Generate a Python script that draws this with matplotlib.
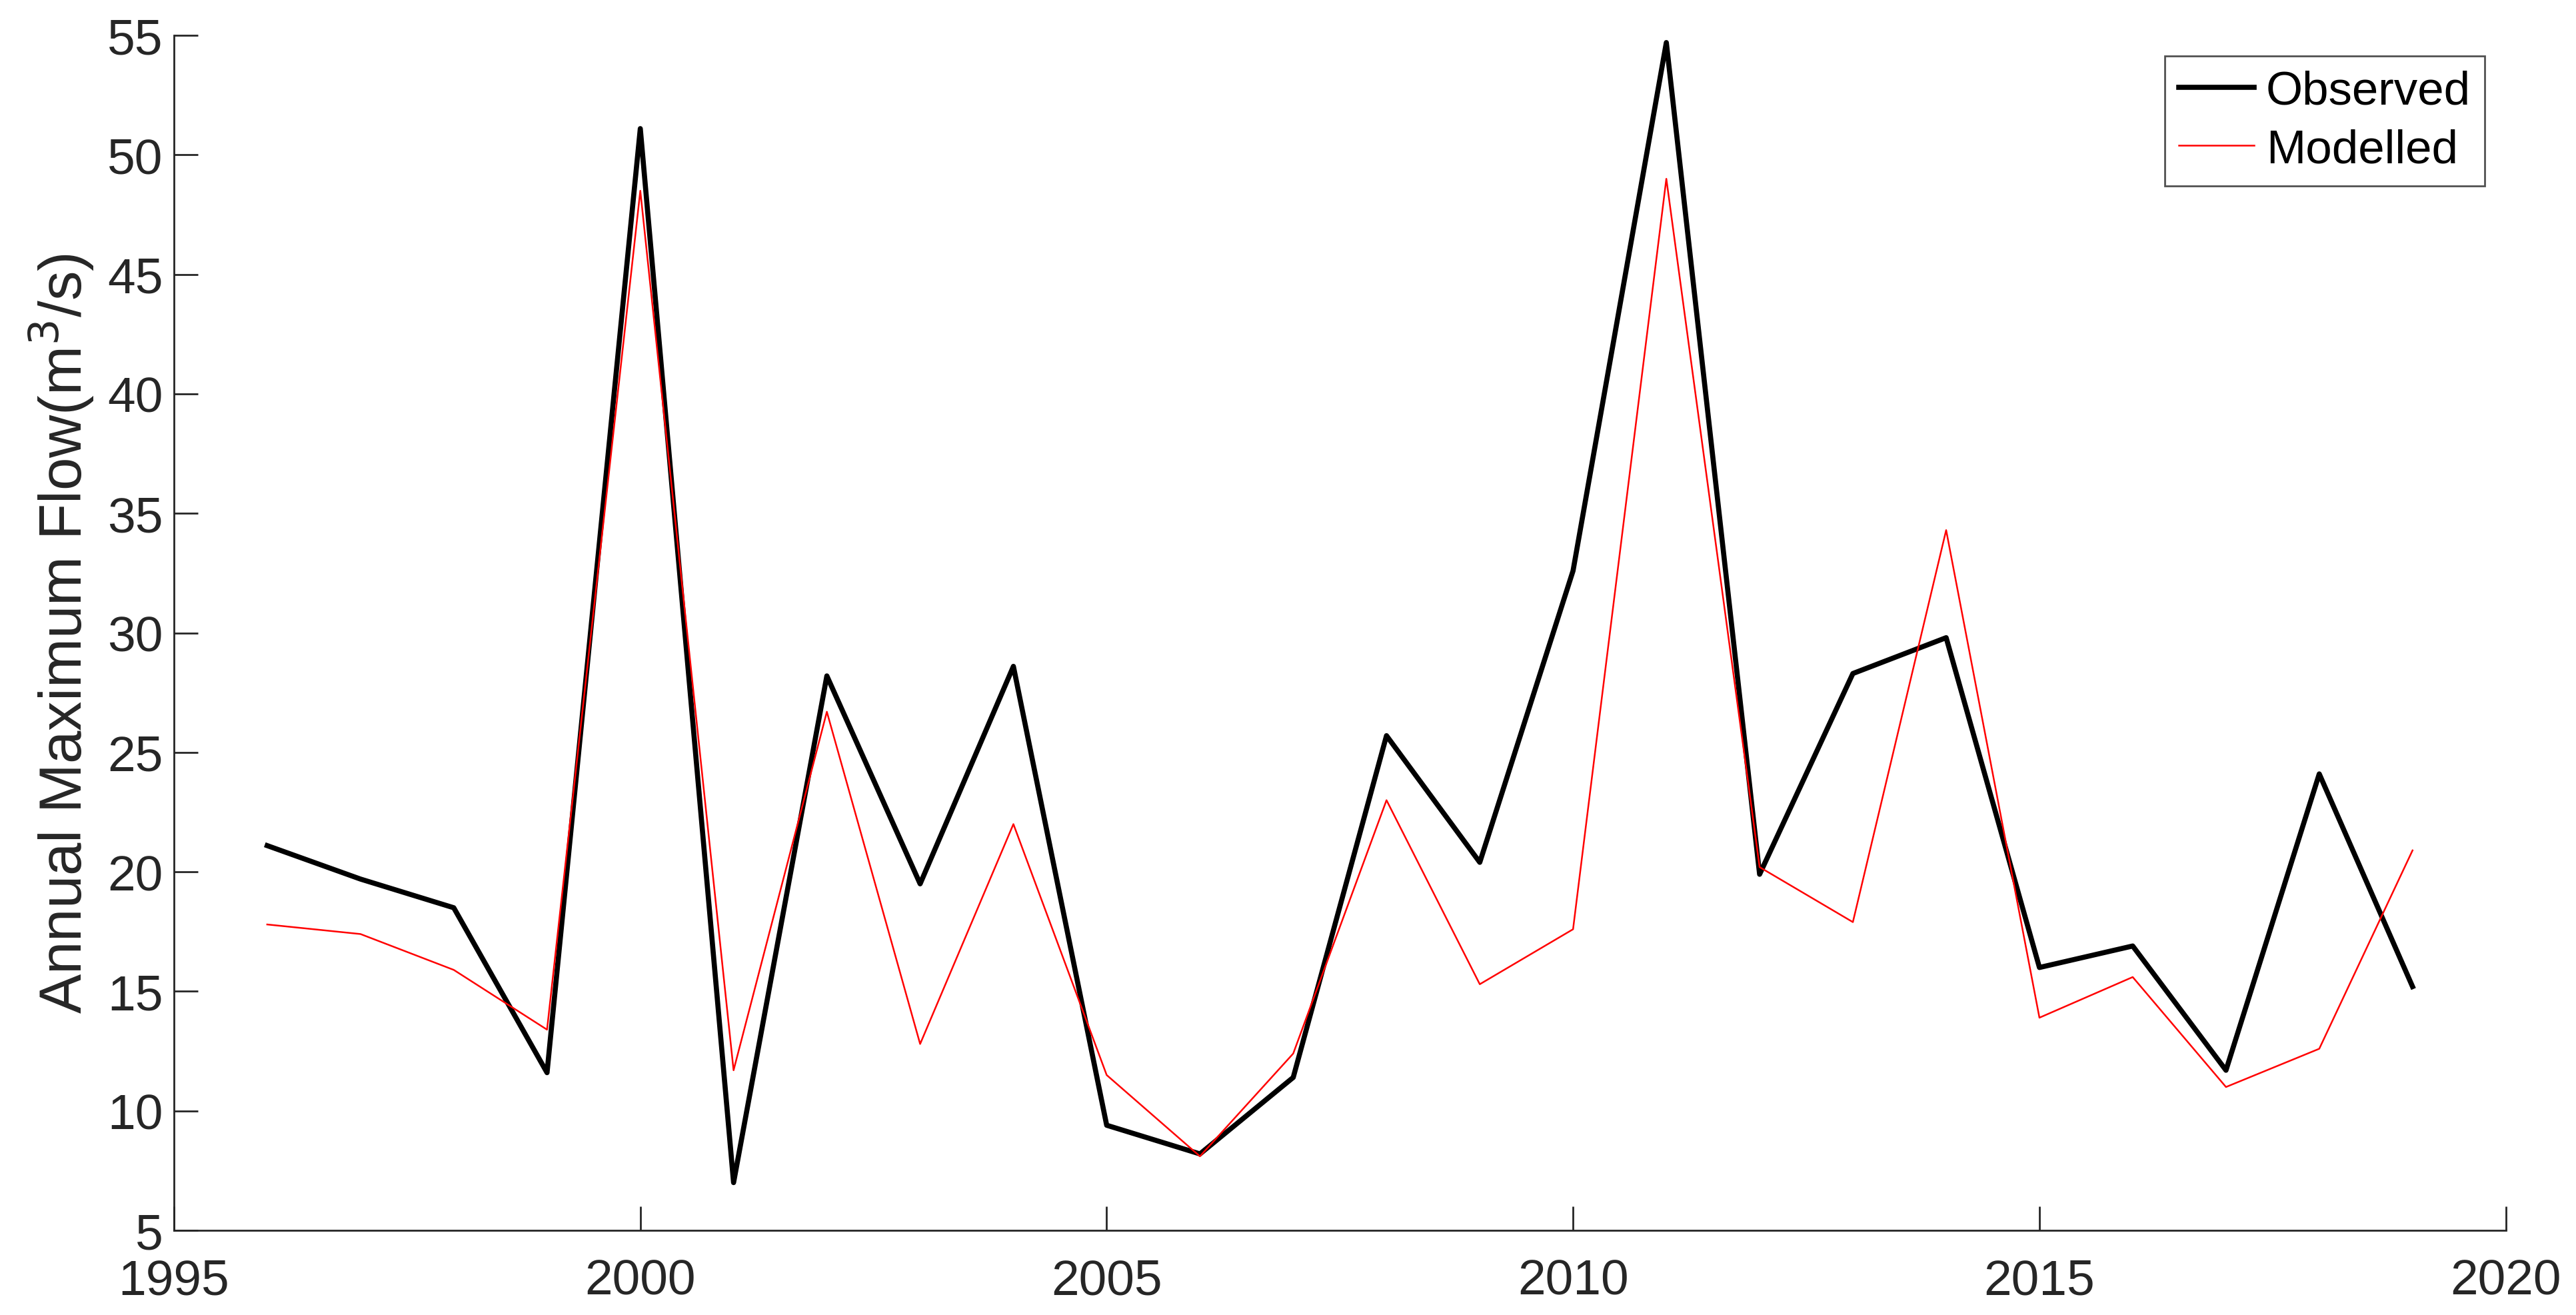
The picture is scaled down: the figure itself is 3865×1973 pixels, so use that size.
import matplotlib
matplotlib.use("Agg")
import matplotlib.pyplot as plt

years = list(range(1996, 2020))
observed = [21.1, 19.7, 18.5, 11.6, 51.1, 7.0, 28.2, 19.5, 28.6, 9.4, 8.2, 11.4,
            25.7, 20.4, 32.6, 54.7, 19.9, 28.3, 29.8, 16.0, 16.9, 11.7, 24.1, 15.2]
modelled = [17.8, 17.4, 15.9, 13.4, 48.5, 11.7, 26.7, 12.8, 22.0, 11.5, 8.1, 12.4,
            23.0, 15.3, 17.6, 49.0, 20.2, 17.9, 34.3, 13.9, 15.6, 11.0, 12.6, 20.9]
xticks = [1995, 2000, 2005, 2010, 2015, 2020]
yticks = [5, 10, 15, 20, 25, 30, 35, 40, 45, 50, 55]

plt.rcParams['font.family'] = ['Liberation Sans', 'DejaVu Sans']
fig = plt.figure(figsize=(38.66, 19.74), dpi=100)
ax = fig.add_axes([0.0675, 0.0643, 0.905, 0.9083])

ax.plot(years, observed, color='black', lw=5.5, label='Observed')
ax.plot(years, modelled, color='red', lw=1.8, label='Modelled')

ax.set_xlim(1995, 2020)
ax.set_ylim(5, 55)
ax.set_xticks(xticks)
ax.set_yticks(yticks)
for s in ['top', 'right']:
    ax.spines[s].set_visible(False)
for s in ['left', 'bottom']:
    ax.spines[s].set_color('#262626')
    ax.spines[s].set_linewidth(2)
ax.tick_params(direction='in', length=26, width=2, color='#262626',
               labelsize=54, labelcolor='#262626')
ax.tick_params(axis='x', pad=30)
ax.tick_params(axis='y', pad=12)
ax.set_ylabel('Annual Maximum Flow(m$^3$/s)', fontsize=64, color='#262626', labelpad=12)

leg = ax.legend(loc='upper right', fontsize=51, frameon=True, fancybox=False,
                edgecolor='#262626', handlelength=1.6, borderaxespad=0.0,
                labelspacing=0.3, handletextpad=0.25, borderpad=0.3,
                bbox_to_anchor=(0.991, 0.983))
leg.get_frame().set_linewidth(2)

fig.savefig('out.png', dpi=100)
